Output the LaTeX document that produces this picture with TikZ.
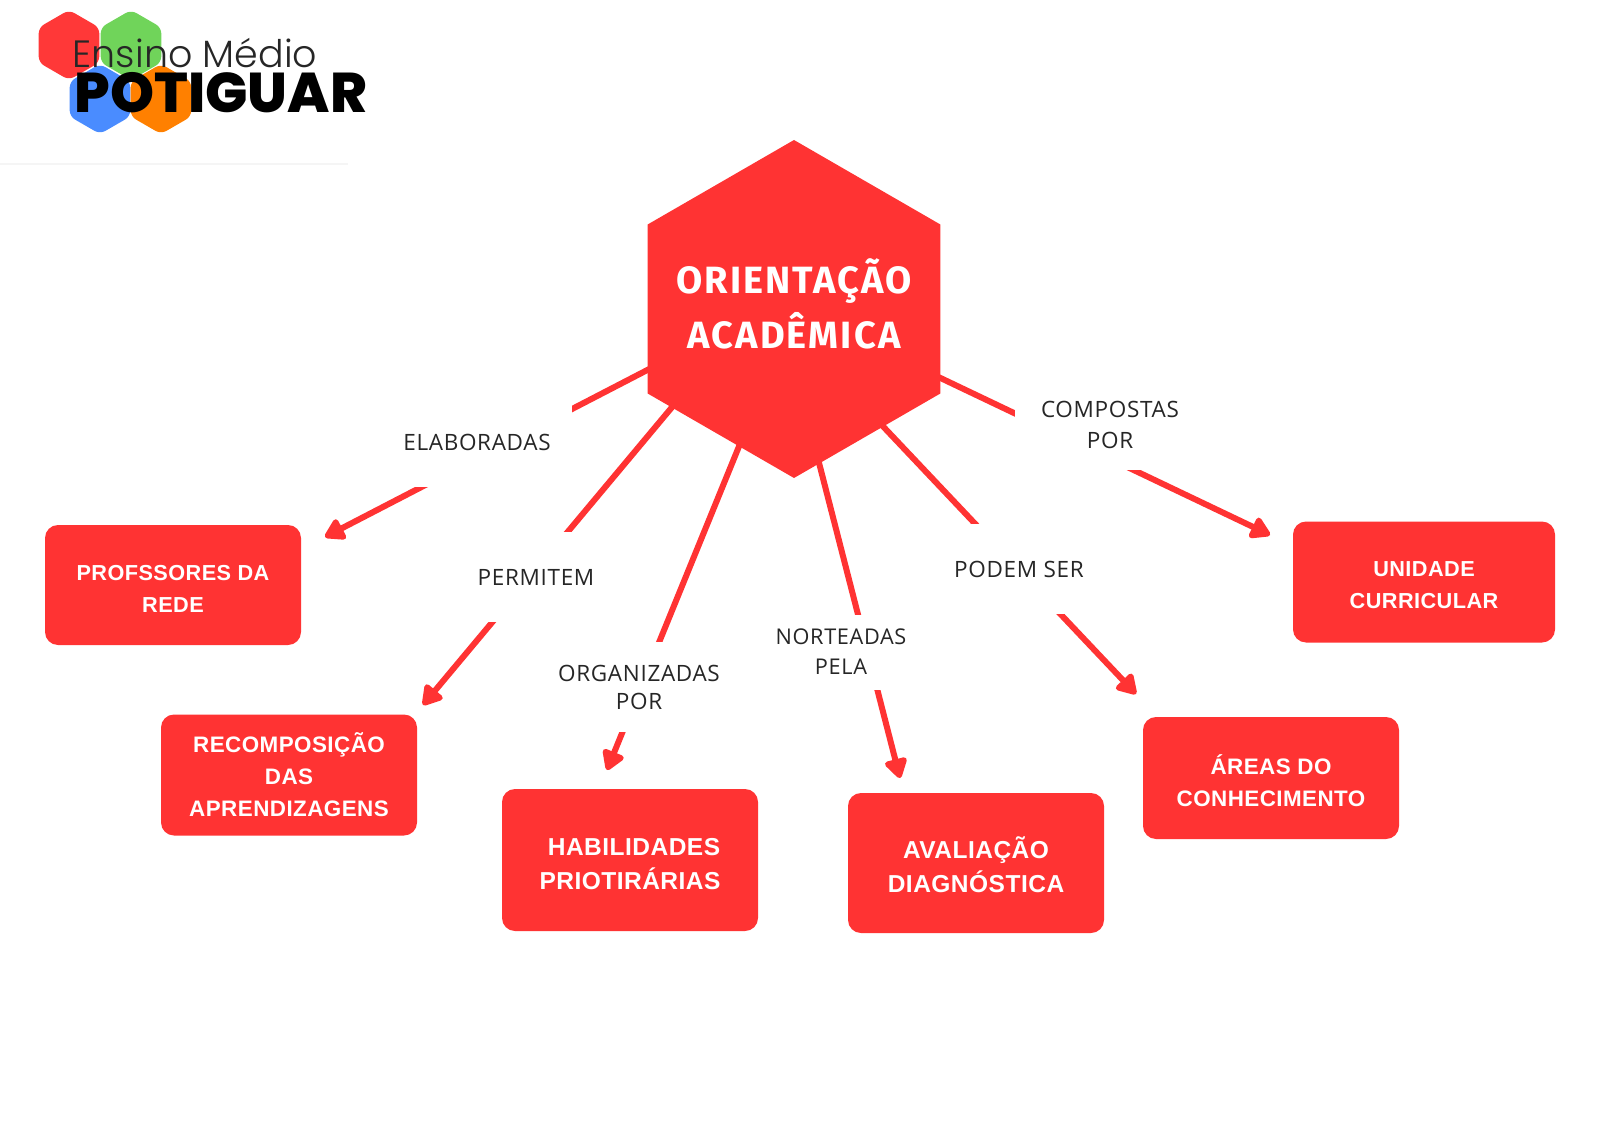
\documentclass[tikz,border=0pt]{standalone}
\usepackage{fontspec}
\usetikzlibrary{shapes.geometric,arrows.meta,backgrounds}
\setmainfont{Open Sans}
\newfontfamily\hubfont[LetterSpace=5.5]{Fira Sans}[BoldFont=* Bold]
\newfontfamily\boxfont[LetterSpace=2]{Liberation Sans}
\newfontfamily\labelfont[LetterSpace=3]{Open Sans}
\newfontfamily\logolight{Poppins}[UprightFont=* Light]
\newfontfamily\logoblack{Poppins}[UprightFont=* ExtraBold]
\definecolor{hubred}{HTML}{FF3333}
\definecolor{logred}{HTML}{FF3838}
\definecolor{loggreen}{HTML}{70D45A}
\definecolor{logblue}{HTML}{4A8CFF}
\definecolor{logorange}{HTML}{FF8000}
\tikzset{
  hubshape/.style={regular polygon,regular polygon sides=6,shape border rotate=90,fill=hubred,minimum size=338pt,inner sep=0pt},
  hubtext/.style={inner sep=0pt,text=white,align=center,font=\hubfont\bfseries\fontsize{38}{55}\selectfont},
  topicbox/.style={rectangle,rounded corners=13pt,fill=hubred,minimum width=256pt,inner sep=0pt,text=white,align=center,font=\boxfont\bfseries\fontsize{21.7}{32}\selectfont},
  widetext/.style={font=\boxfont\bfseries\fontsize{22.4}{32}\selectfont},
  bigbox/.style={topicbox,font=\boxfont\bfseries\fontsize{24.5}{34}\selectfont},
  verb/.style={rectangle,fill=white,minimum width=190pt,minimum height=90pt,inner sep=0pt,text=black!85,align=center,font=\labelfont\fontsize{22.5}{31}\selectfont},
  conn/.style={draw=hubred,line width=6pt,-{Triangle[length=22pt,width=25pt,round]}},
  loghex/.style={regular polygon,regular polygon sides=6,shape border rotate=90,minimum size=70pt,inner sep=0pt,rounded corners=6pt}
}
\begin{document}
\begin{tikzpicture}[x=1pt,y=-1pt]
\useasboundingbox (0,0) rectangle (1600,1131);
% logo
\draw[black!4,line width=1.5pt] (0,164) -- (348,164);
\node[loghex,fill=logred] (lr) at (69,45) {};
\node[loghex,fill=loggreen] (lg) at (131,45) {};
\node[loghex,fill=logblue] (lb) at (100,99) {};
\node[loghex,fill=logorange] (lo) at (161,99) {};
\node[inner sep=0pt,anchor=center,text=black!85] (lt1) at (195,53) {\logolight\fontsize{38}{38}\selectfont Ensino Médio};
\node[inner sep=0pt,anchor=center,text=black] (lt2) at (221,93) {\logoblack\fontsize{56}{56}\selectfont POTIGUAR};
% hub
\node[hubshape] (hub) at (794,309) {};
\node[hubtext] (hubt) at (794,304) {ORIENTAÇÃO\\ACADÊMICA};
% topic boxes
\node[topicbox,minimum height=120pt] (b1) at (173,585) {\rule{0pt}{22pt}PROFSSORES DA\\REDE};
\node[topicbox,widetext,minimum height=121pt] (b2) at (289,775) {RECOMPOSIÇÃO\\DAS\\APRENDIZAGENS};
\node[bigbox,minimum height=142pt] (b3) at (630,860) {\rule{0pt}{25pt}\hspace{8pt}HABILIDADES\\PRIOTIRÁRIAS};
\node[bigbox,minimum height=140pt] (b4) at (976,863) {\rule{0pt}{26pt}AVALIAÇÃO\\DIAGNÓSTICA};
\node[topicbox,widetext,minimum height=122pt] (b5) at (1271,778) {\rule{0pt}{25pt}ÁREAS DO\\CONHECIMENTO};
\node[topicbox,minimum width=262pt,minimum height=121pt] (b6) at (1424,582) {\rule{0pt}{21pt}UNIDADE\\CURRICULAR};
% connector labels
\node[verb] (v1) at (477,442) {ELABORADAS};
\node[verb] (v2) at (536,577) {PERMITEM};
\node[verb,font=\labelfont\fontsize{22.5}{28}\selectfont] (v3) at (639,687) {ORGANIZADAS\\POR};
\node[verb,minimum height=75pt,font=\labelfont\fontsize{21.7}{30}\selectfont] (v4) at (841,652) {NORTEADAS\\PELA};
\node[verb] (v5) at (1019,569) {PODEM SER};
\node[verb] (v6) at (1110,425) {COMPOSTAS\\POR};
% connector ends
\coordinate (s1) at (657,365); \coordinate (t1) at (325,537);
\coordinate (s2) at (678,400); \coordinate (t2) at (423,705);
\coordinate (s3) at (742,439); \coordinate (t3) at (607,770);
\coordinate (s4) at (817,455); \coordinate (t4) at (900,778);
\coordinate (s5) at (877,420); \coordinate (t5) at (1136,694);
\coordinate (s6) at (930,373); \coordinate (t6) at (1270,535);
\begin{scope}[on background layer]
\draw[conn] (s1) -- (t1);
\draw[conn] (s2) -- (t2);
\draw[conn] (s3) -- (t3);
\draw[conn] (s4) -- (t4);
\draw[conn] (s5) -- (t5);
\draw[conn] (s6) -- (t6);
\end{scope}
\end{tikzpicture}
\end{document}
